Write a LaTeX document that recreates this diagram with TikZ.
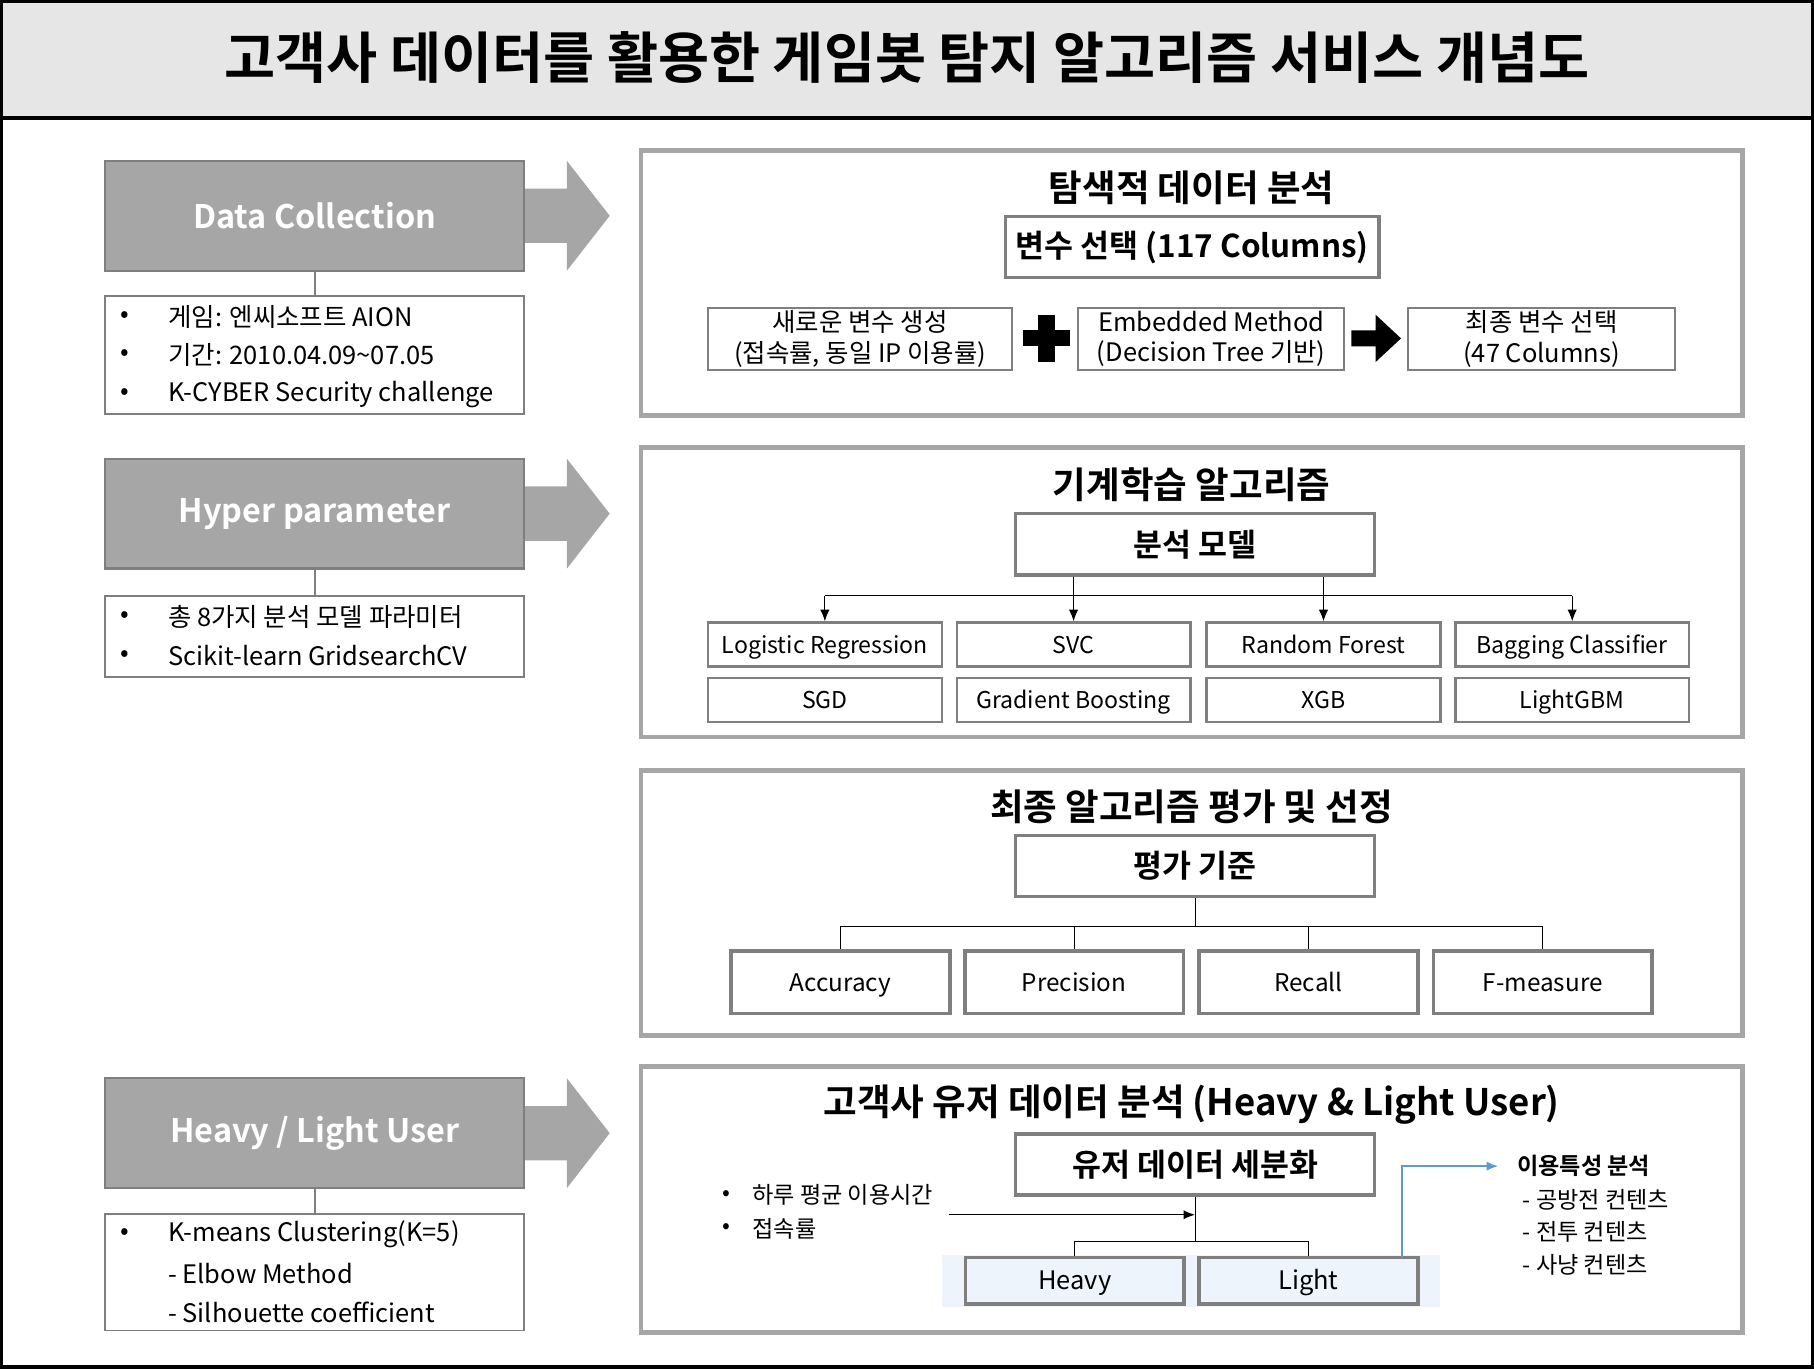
\documentclass[tikz,border=0pt]{standalone}
\usepackage{fontspec}
\setmainfont{Noto Sans CJK KR}[BoldFont={Noto Sans CJK KR Bold}]
\usetikzlibrary{arrows.meta}
\definecolor{headgray}{HTML}{A6A6A6}
\definecolor{edgegray}{HTML}{7F7F7F}
\definecolor{bandgray}{HTML}{E7E6E6}
\definecolor{userblue}{HTML}{EEF4FB}
\definecolor{linkblue}{HTML}{5B9BD5}

\begin{document}
\begin{tikzpicture}[x=0.5pt, y=-0.5pt, >={Latex[length=5pt, width=4pt]},
	every node/.style={inner sep=0pt},
	headbox/.style={fill=headgray, draw=edgegray, line width=1pt, minimum width=181pt, minimum height=47.5pt, text=white, font=\bfseries\fontsize{14}{16}\selectfont},
	listbox/.style={fill=white, draw=edgegray, line width=0.8pt, minimum width=181pt},
	entry/.style={anchor=west, font=\fontsize{11}{13}\selectfont},
	panel/.style={fill=white, draw=headgray, line width=2pt, minimum width=476pt},
	ptitle/.style={font=\bfseries\fontsize{15.8}{18}\selectfont},
	keybox/.style={draw=edgegray, line width=1.5pt, minimum width=155pt, minimum height=26.5pt, font=\bfseries\fontsize{13.6}{16}\selectfont},
	stepbox/.style={draw=edgegray, line width=1pt, minimum height=27pt, align=center, font=\fontsize{11}{13}\selectfont},
	algo/.style={draw=edgegray, line width=1pt, minimum width=101pt, minimum height=19pt, text height=0.82em, text depth=0.04em, font=\fontsize{10}{12}\selectfont},
	metric/.style={draw=edgegray, line width=1.5pt, minimum width=94.5pt, minimum height=27pt, text height=0.82em, text depth=0.04em, font=\fontsize{10.5}{12}\selectfont},
	user/.style={metric, fill=userblue, minimum height=20pt, font=\fontsize{11}{13}\selectfont},
	note/.style={anchor=west, font=\fontsize{10}{12}\selectfont}]
	\useasboundingbox (0,0) rectangle (1568,1183);
	
	\fill[bandgray] (0,0) rectangle (1568,102);
	\draw[line width=1.5pt] (0,102) -- (1568,102);
	\draw[line width=1.5pt] (1.5,1.5) rectangle (1566.5,1181.5);
	\node[font=\bfseries\fontsize{24}{28}\selectfont] (title) at (784,50) {고객사 데이터를 활용한 게임봇 탐지 알고리즘 서비스 개념도};
	
	% left column
	\foreach \y in {186.5, 444, 979.5}
		\fill[headgray] (453,\y-23.5) -- (490,\y-23.5) -- (490,\y-47.5) -- (527,\y) -- (490,\y+47.5) -- (490,\y+23.5) -- (453,\y+23.5) -- cycle;
	
	\node[headbox] (collect) at (272,186.5) {Data Collection};
	\node[listbox, minimum height=51pt] (collectlist) at (272,307) {};
	\node[entry] at (104,274) {•};
	\node[entry] at (145,274) {게임: 엔씨소프트 AION};
	\node[entry] at (104,307) {•};
	\node[entry] at (145,307) {기간: 2010.04.09\textasciitilde07.05};
	\node[entry] at (104,341) {•};
	\node[entry] at (145,341) {K-CYBER Security challenge};
	
	\node[headbox] (hyper) at (272,444) {Hyper parameter};
	\node[listbox, minimum height=35pt] (hyperlist) at (272,550) {};
	\node[entry] at (104,533) {•};
	\node[entry] at (145,533) {총 8가지 분석 모델 파라미터};
	\node[entry] at (104,567) {•};
	\node[entry] at (145,567) {Scikit-learn GridsearchCV};
	
	\node[headbox] (usertype) at (272,979.5) {Heavy / Light User};
	\node[listbox, minimum height=50.5pt] (userlist) at (272,1099.5) {};
	\node[entry] at (104,1067) {•};
	\node[entry] at (145,1067) {K-means Clustering(K=5)};
	\node[entry] at (145,1101) {- Elbow Method};
	\node[entry] at (145,1134) {- Silhouette coefficient};
	
	\draw[edgegray, line width=1pt] (collect) -- (collectlist);
	\draw[edgegray, line width=1pt] (hyper) -- (hyperlist);
	\draw[edgegray, line width=1pt] (usertype) -- (userlist);
	
	% panel 1
	\node[panel, minimum height=114.5pt] (eda) at (1030,244.5) {};
	\node[ptitle] (edatitle) at (1030,162) {탐색적 데이터 분석};
	\node[keybox, minimum width=161.5pt] (varkey) at (1030.5,213.5) {변수 선택 (117 Columns)};
	\node[stepbox, minimum width=131.5pt] (newvar) at (743.5,293) {새로운 변수 생성\\(접속률, 동일 IP 이용률)};
	\node[stepbox, minimum width=115pt] (embed) at (1047,293) {Embedded Method\\(Decision Tree 기반)};
	\node[stepbox, minimum width=115.5pt] (finalvar) at (1332.5,293) {최종 변수 선택\\(47 Columns)};
	\fill (897.5,272) rectangle (911.5,313);
	\fill (884,285.5) rectangle (925,299.5);
	\fill (1168,285.5) -- (1189,285.5) -- (1189,272) -- (1211,292.5) -- (1189,313) -- (1189,299.5) -- (1168,299.5) -- cycle;
	
	% panel 2
	\node[panel, minimum height=125pt] (ml) at (1030,512) {};
	\node[ptitle] (mltitle) at (1030,419) {기계학습 알고리즘};
	\node[keybox] (model) at (1033,470.5) {분석 모델};
	\node[algo] (algoA) at (713,557) {Logistic Regression};
	\node[algo] (algoB) at (928,557) {SVC};
	\node[algo] (algoC) at (1144,557) {Random Forest};
	\node[algo] (algoD) at (1359,557) {Bagging Classifier};
	\node[algo] (algoE) at (713,605) {SGD};
	\node[algo] (algoF) at (928,605) {Gradient Boosting};
	\node[algo] (algoG) at (1144,605) {XGB};
	\node[algo] (algoH) at (1359,605) {LightGBM};
	\coordinate (msplit) at (1033,515);
	\draw (algoA.north |- msplit) -- (algoD.north |- msplit);
	\draw[->] (algoA.north |- msplit) -- (algoA.north);
	\draw[->] (algoB.north |- model.south) -- (algoB.north);
	\draw[->] (algoC.north |- model.south) -- (algoC.north);
	\draw[->] (algoD.north |- msplit) -- (algoD.north);
	
	% panel 3
	\node[panel, minimum height=114.5pt] (evaluate) at (1030,780.5) {};
	\node[ptitle] (evaltitle) at (1030,697) {최종 알고리즘 평가 및 선정};
	\node[keybox] (evalkey) at (1033,748.5) {평가 기준};
	\node[metric] (accuracy) at (726.5,849) {Accuracy};
	\node[metric] (precision) at (928.5,849) {Precision};
	\node[metric] (recall) at (1131,849) {Recall};
	\node[metric] (fmeasure) at (1333.5,849) {F-measure};
	\coordinate (esplit) at (1033,801);
	\draw (evalkey.south) -- (esplit);
	\draw (accuracy.north |- esplit) -- (fmeasure.north |- esplit);
	\foreach \m in {accuracy, precision, recall, fmeasure}
		\draw (\m.north |- esplit) -- (\m.north);
	
	% panel 4
	\node[panel, minimum height=115pt] (segment) at (1030,1037) {};
	\node[ptitle] (segtitle) at (1030,955) {고객사 유저 데이터 분석 (Heavy \& Light User)};
	\node[keybox] (segkey) at (1033,1006.5) {유저 데이터 세분화};
	\fill[userblue] (814,1085) rectangle (1245,1130);
	\node[user] (heavy) at (929,1107) {Heavy};
	\node[user] (light) at (1131,1107) {Light};
	\coordinate (usplit) at (1033,1073);
	\draw (segkey.south) -- (usplit);
	\draw (heavy.north) |- (usplit) -| (light.north);
	\node[note] at (624,1033) {•};
	\node[note] (usetime) at (650,1033) {하루 평균 이용시간};
	\node[note] at (624,1062) {•};
	\node[note] (access) at (650,1062) {접속률};
	\coordinate (inp) at (820,1050);
	\draw[->, line width=0.6pt] (inp) -- (inp -| segkey.south);
	\node[note, font=\bfseries\fontsize{10}{12}\selectfont] (feature) at (1311,1008) {이용특성 분석};
	\node[note] at (1316,1037) {- 공방전 컨텐츠};
	\node[note] at (1316,1065) {- 전투 컨텐츠};
	\node[note] at (1316,1093) {- 사냥 컨텐츠};
	\coordinate (bluefoot) at (1212,1087);
	\draw[->, linkblue, line width=0.8pt] (bluefoot) |- ([xshift=-8pt]feature.west);
\end{tikzpicture}
\end{document}
